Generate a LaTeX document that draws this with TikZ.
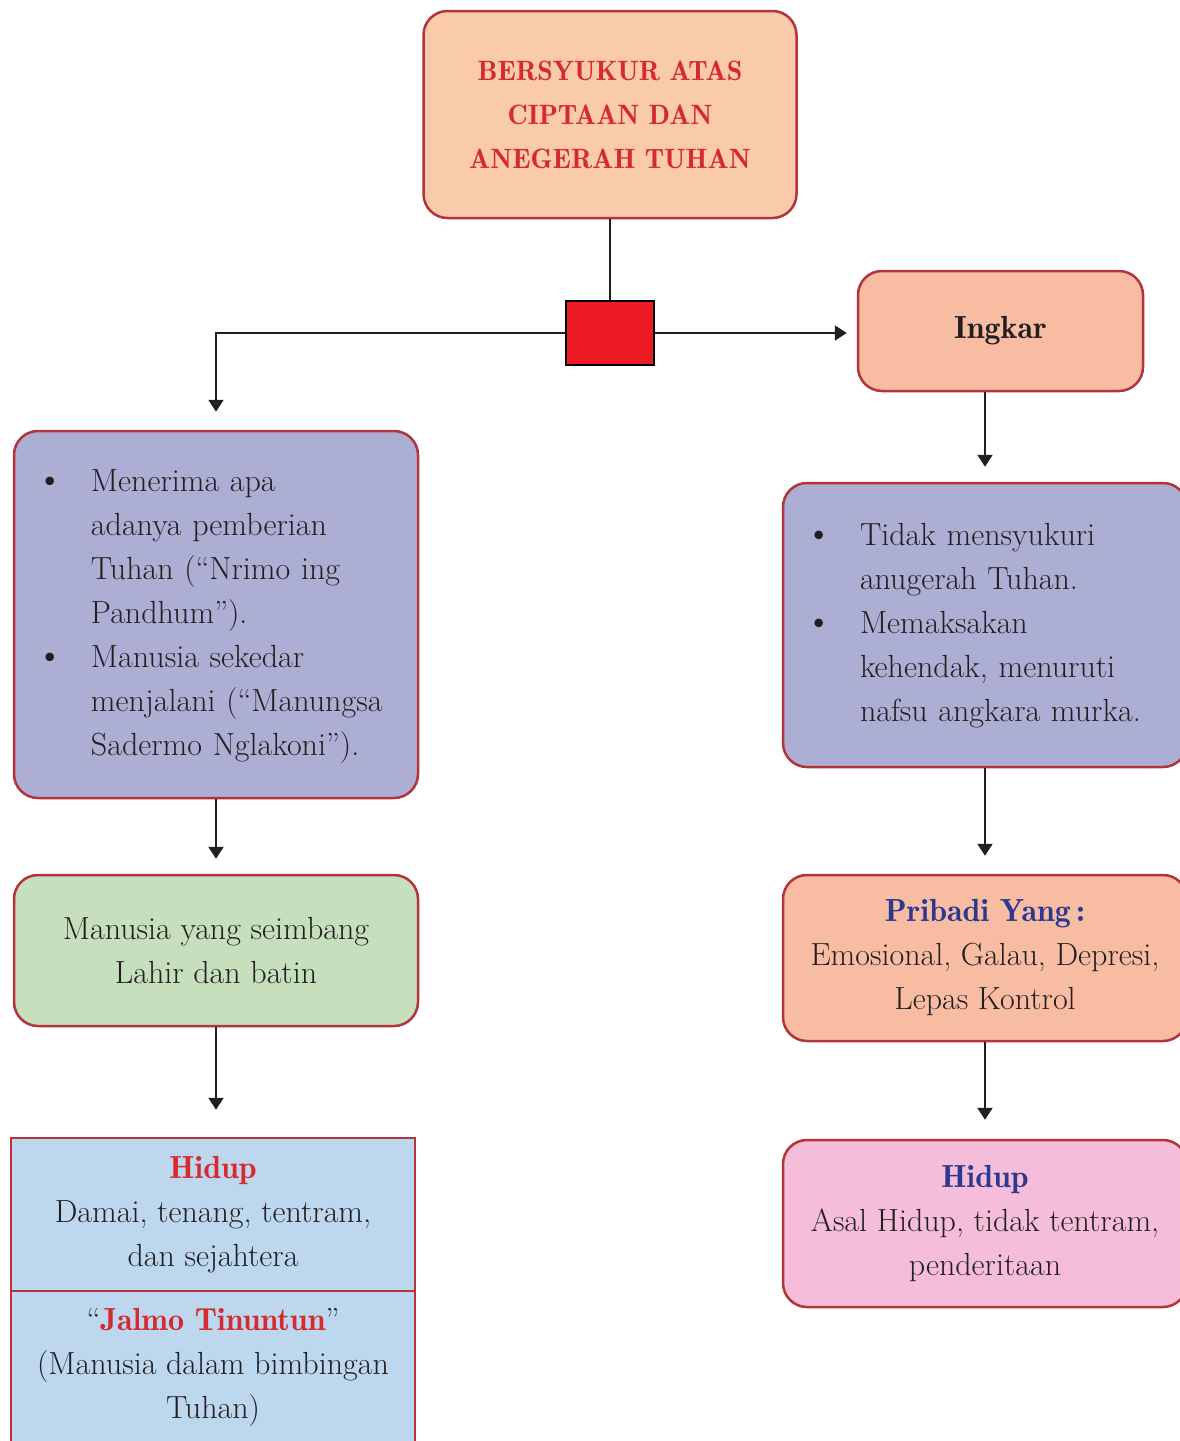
\documentclass[tikz,border=0pt]{standalone}
\usetikzlibrary{arrows.meta}
\definecolor{garis}{HTML}{B3343A}
\definecolor{judul}{HTML}{D52A30}
\definecolor{teks}{HTML}{231F20}
\definecolor{biru}{HTML}{2B3990}
\definecolor{peach}{HTML}{FACBAA}
\definecolor{salem}{HTML}{F8BCA3}
\definecolor{ungu}{HTML}{ADAED4}
\definecolor{hijau}{HTML}{C6DFBD}
\definecolor{langit}{HTML}{BDD7EE}
\definecolor{jambon}{HTML}{F5BDDA}
\definecolor{merah}{HTML}{ED1C24}
\newcommand{\tebal}{\fontseries{b}\selectfont}
\newcommand{\titik}{\hspace*{-8pt}{\fontsize{38}{44}\selectfont\textbullet}}
\tikzset{
	kotak/.style={draw=garis, line width=2.5pt, rounded corners=24pt, minimum width=404pt, text=teks, font=\fontsize{32}{44}\selectfont, align=center},
	panah/.style={line width=2.2pt, draw=teks, -{Triangle[length=12pt,width=15pt]}},
}

\begin{document}
\begin{tikzpicture}[x=1pt, y=-1pt]
			%%%%% START %%%%%
			\useasboundingbox (0, 0) rectangle (1180, 1441);
			\clip (0, 0) rectangle (1180, 1441);
			
			\node[kotak, fill=peach, minimum width=373pt, minimum height=207pt, text=judul, font=\fontsize{28}{44}\selectfont\tebal] (syukur) at (610, 114.5) {BERSYUKUR ATAS\\CIPTAAN DAN\\ANEGERAH TUHAN};
			\node[draw=black, line width=2pt, fill=merah, minimum width=88pt, minimum height=64pt, inner sep=0pt] (simpul) at (610, 333) {};
			\node[kotak, fill=salem, minimum width=285pt, minimum height=120pt, font=\fontsize{32}{44}\selectfont\tebal] (ingkar) at (1000.5, 331) {Ingkar};
			
			% kiri
			\node[kotak, fill=ungu, minimum height=367pt, text width=344pt, inner xsep=30pt, align=left] (nrimo) at (216, 614.5) {\noindent\begin{tabular}{@{}p{47pt}@{}l@{}}
				\titik & Menerima apa\\
				& adanya pemberian\\
				& Tuhan (“Nrimo ing\\
				& Pandhum”).\\
				\titik & Manusia sekedar\\
				& menjalani (“Manungsa\\
				& Sadermo Nglakoni”).
			\end{tabular}};
			\node[kotak, fill=hijau, minimum height=151pt] (seimbang) at (216, 950.5) {Manusia yang seimbang\\Lahir dan batin};
			\node[kotak, fill=langit, rounded corners=0pt, minimum height=153pt] (tentram) at (213, 1214.5) {{\tebal\color{judul}Hidup}\\Damai, tenang, tentram,\\dan sejahtera};
			\node[kotak, fill=langit, rounded corners=0pt, minimum height=153pt] (tinuntun) at (213, 1367.5) {“{\tebal\color{judul}Jalmo Tinuntun}”\\(Manusia dalam bimbingan\\Tuhan)};
			
			% kanan
			\node[kotak, fill=ungu, minimum height=284pt, text width=344pt, inner xsep=30pt, align=left] (lawan) at (985, 625) {\noindent\begin{tabular}{@{}p{47pt}@{}l@{}}
				\titik & Tidak mensyukuri\\
				& anugerah Tuhan.\\
				\titik & Memaksakan\\
				& kehendak, menuruti\\
				& nafsu angkara murka.
			\end{tabular}};
			\node[kotak, fill=salem, minimum height=166pt] (pribadi) at (985, 958) {{\tebal\color{biru}Pribadi Yang\,:}\\Emosional, Galau, Depresi,\\Lepas Kontrol};
			\node[kotak, fill=jambon, minimum height=167pt] (sengsara) at (985, 1223.5) {{\tebal\color{biru}Hidup}\\Asal Hidup, tidak tentram,\\penderitaan};
			
			% panah
			\draw[line width=2.2pt, draw=teks] (syukur.south) -- (simpul.north);
			\draw[panah, shorten >=18pt] (simpul.west) -| (nrimo.north);
			\draw[panah, shorten >=10pt] (simpul.east) -- (simpul.east -| ingkar.west);
			\draw[panah, shorten >=15pt] (ingkar.south -| lawan.north) -- (lawan.north);
			\draw[panah, shorten >=15pt] (nrimo.south) -- (seimbang.north);
			\draw[panah, shorten >=27pt] (seimbang.south) -- (seimbang.south |- tentram.north);
			\draw[panah, shorten >=18pt] (lawan.south) -- (pribadi.north);
			\draw[panah, shorten >=19pt] (pribadi.south) -- (sengsara.north);
			
			%%%%% END %%%%%
\end{tikzpicture}
\end{document}
